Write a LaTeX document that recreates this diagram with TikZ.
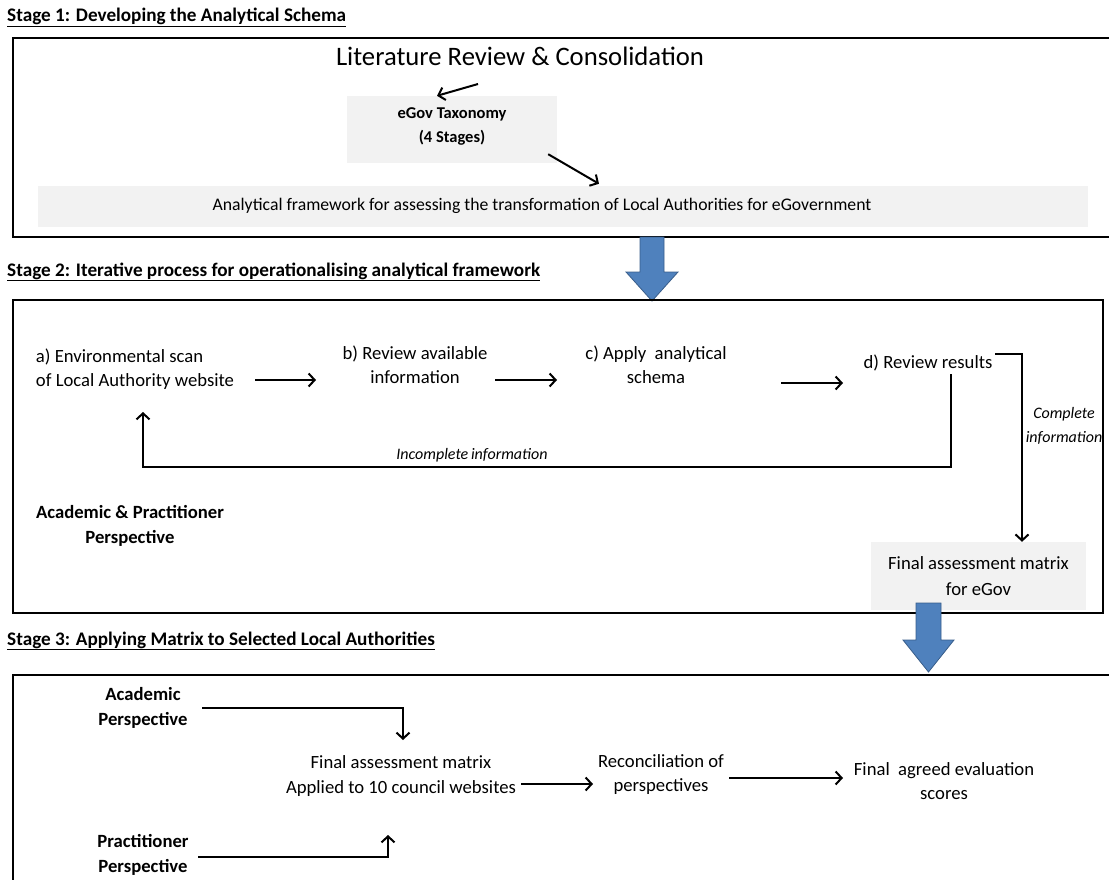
\documentclass[tikz,border=0pt]{standalone}
\usepackage{fontspec}
\setmainfont{Carlito}
\usetikzlibrary{arrows.meta}
\definecolor{boxgrey}{HTML}{F2F2F2}
\definecolor{bluefill}{HTML}{4F81BD}
\definecolor{blueedge}{HTML}{385D8A}
\tikzset{
  frame/.style={draw=black, line width=2.2pt},
  greybox/.style={fill=boxgrey, inner sep=0pt},
  txt/.style={font=\fontsize{18.67}{24}\selectfont, inner sep=0pt, align=center},
  boldtxt/.style={font=\fontsize{18.67}{25}\selectfont\bfseries, inner sep=0pt, align=center},
  titletxt/.style={font=\fontsize{19.2}{22}\selectfont\bfseries, inner sep=0pt, anchor=base west},
  labeltxt/.style={font=\fontsize{16}{24}\selectfont\itshape, inner sep=0pt, align=center},
  conn/.style={line width=2pt, -{Straight Barb[length=6pt,width=13pt]}},
  bluearrow/.style={fill=bluefill, draw=blueedge, line width=0.8pt},
}
\begin{document}
\begin{tikzpicture}[x=1pt,y=-1pt]
\useasboundingbox (0,0) rectangle (1109,880);
\clip (0,0) rectangle (1109,880);

% ---------- Stage 1 ----------
\node[titletxt] (t1) at (7,22) {\underline{Stage 1: Developing the Analytical Schema}};
\draw[frame] (13,38) rectangle (1120,237);
\node[font=\fontsize{26.67}{30}\selectfont, inner sep=0pt] (lit) at (520,56) {Literature Review \& Consolidation};
\node[greybox, minimum width=210pt, minimum height=67pt] (egovbox) at (452,129.5) {};
\node[boldtxt, font=\fontsize{16.5}{24}\selectfont\bfseries] (egov) at (452,126) {eGov Taxonomy\\(4 Stages)};
\node[greybox, minimum width=1050pt, minimum height=41pt] (fbar) at (563,206.5) {};
\node[txt, font=\fontsize{17.7}{20}\selectfont] (ftext) at (542,206) {Analytical framework for assessing the transformation of Local Authorities for eGovernment};
\draw[conn] ([shift={(-42,28)}]lit.center) -- ([shift={(-15,0)}]egovbox.north);
\draw[conn] ([shift={(-9,-9)}]egovbox.south east) -- ([shift={(36,-2)}]fbar.north);

% blue arrow 1
\filldraw[bluearrow] (640,237) -- (664,237) -- (664,272) -- (678,272) -- (652,301) -- (626,272) -- (640,272) -- cycle;

% ---------- Stage 2 ----------
\node[titletxt] (t2) at (7,276) {\underline{Stage 2: Iterative process for operationalising analytical framework}};
\draw[frame] (13,300) rectangle (1103,613);
\node[txt, align=left] (a) at (135,369) {a) Environmental scan\\of Local Authority website};
\node[txt] (b) at (415,365) {b) Review available\\information};
\node[txt] (c) at (656,365) {c) Apply\ \ analytical\\schema};
\node[txt] (d) at (928,363) {d) Review results};
\node[greybox, minimum width=215pt, minimum height=68pt] (fambox) at (978.5,576) {};
\node[txt, font=\fontsize{18.67}{26}\selectfont] (fam) at (978.5,576) {Final assessment matrix\\for eGov};
\node[boldtxt] (app) at (130,526) {Academic \& Practitioner\\Perspective};

\draw[conn] ([shift={(120,11)}]a.center) -- ([shift={(-99,15)}]b.center);
\draw[conn] ([shift={(80,15)}]b.center) -- ([shift={(-99,15)}]c.center);
\draw[conn] ([shift={(125,18)}]c.center) -- ([shift={(-85,20)}]d.center);

\coordinate (cbend) at (1022,354);
\draw[conn] ([shift={(67,-9)}]d.center) -- (cbend) -- (cbend |- fambox.north);
\node[labeltxt] (complete) at (1064,426) {Complete\\information};

\draw[conn] ([shift={(23,11)}]d.center) -- ([shift={(23,104)}]d.center) -| ([shift={(8,43)}]a.center);
\node[labeltxt] (incomplete) at (472,455) {Incomplete\,information};

% blue arrow 2
\filldraw[bluearrow] (916,603) -- (941,603) -- (941,640) -- (954,640) -- (928.5,672) -- (903,640) -- (916,640) -- cycle;

% ---------- Stage 3 ----------
\node[titletxt] (t3) at (7,645) {\underline{Stage 3: Applying Matrix to Selected Local Authorities}};
\draw[frame] (13,675) rectangle (1120,900);
\node[boldtxt] (acad) at (143,708) {Academic\\Perspective};
\node[boldtxt] (prac) at (143,855) {Practitioner\\Perspective};
\node[txt, font=\fontsize{18.67}{25}\selectfont] (fam3) at (401,776) {Final assessment matrix\\Applied to 10 council websites};
\node[txt] (rec) at (661,775) {Reconciliation of\\perspectives};
\node[txt] (fin) at (944,781) {Final\ \ agreed evaluation\\scores};

\draw[conn] ([shift={(59,0)}]acad.center) -| ([shift={(2,-36)}]fam3.center);
\draw[conn] ([shift={(55,2)}]prac.center) -| ([shift={(-13,59)}]fam3.center);
\draw[conn] ([shift={(120,8)}]fam3.center) -- ([shift={(-68,9)}]rec.center);
\draw[conn] ([shift={(68,3)}]rec.center) -- ([shift={(-101,-3)}]fin.center);
\end{tikzpicture}
\end{document}
